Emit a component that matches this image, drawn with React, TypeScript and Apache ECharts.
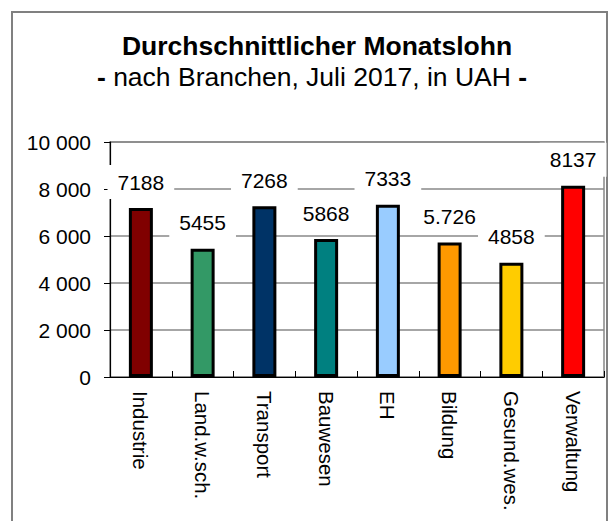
import React, { useEffect, useRef } from "react";
import * as echarts from "echarts";

const categories = ["Industrie", "Land.w.sch.", "Transport", "Bauwesen", "EH", "Bildung", "Gesund.wes.", "Verwaltung"];
const values = [7188, 5455, 7268, 5868, 7333, 5726, 4858, 8137];
const valueLabels = ["7188", "5455", "7268", "5868", "7333", "5.726", "4858", "8137"];
const yTicks = [0, 2000, 4000, 6000, 8000, 10000];
const barColors = ["#800000", "#339966", "#003366", "#008080", "#99CCFF", "#FF9900", "#FFCC00", "#FF0000"];

const FONT = "'Liberation Sans', Arial, Helvetica, sans-serif";

export default function App() {
  const ref = useRef<HTMLDivElement>(null);
  useEffect(() => {
    if (!ref.current) return;
    const chart = echarts.init(ref.current, null, { renderer: "svg" });
    const fmt = (v: number) => {
      const s = String(Math.round(v));
      return s.replace(/\B(?=(\d{3})+(?!\d))/g, " ");
    };
    chart.setOption({
      animation: false,
      backgroundColor: "#ffffff",
      textStyle: { fontFamily: FONT },
      title: [
        {
          text: "Durchschnittlicher Monatslohn",
          left: 317,
          top: 32,
          textAlign: "center",
          padding: 0,
          textStyle: { fontFamily: FONT, fontSize: 26.5, fontWeight: "bold", color: "#000" },
        },
        {
          text: "{b|-} nach Branchen, Juli 2017, in UAH {b|-}",
          left: 312,
          top: 63,
          textAlign: "center",
          padding: 0,
          textStyle: {
            fontFamily: FONT,
            fontSize: 26.5,
            fontWeight: "normal",
            color: "#000",
            rich: {
              b: { fontFamily: FONT, fontSize: 26.5, fontWeight: "bold", color: "#000" },
            },
          },
        },
      ],
      graphic: [
        {
          type: "rect",
          shape: { x: 12, y: 12, width: 595, height: 530 },
          style: { fill: "none", stroke: "#808080", lineWidth: 2 },
          silent: true,
          z: -1,
        },
      ],
      grid: {
        left: 110,
        right: 10,
        top: 142,
        bottom: 144,
        show: true,
        borderColor: "#888888",
        borderWidth: 1.5,
        backgroundColor: "transparent",
      },
      xAxis: {
        type: "category",
        data: categories,
        axisLine: { show: true, lineStyle: { color: "#000", width: 1.2 } },
        axisTick: { show: true, inside: true, length: 6, alignWithLabel: false, lineStyle: { color: "#000" } },
        axisLabel: {
          rotate: -90,
          fontSize: 20.5,
          fontFamily: FONT,
          color: "#000",
          margin: 14,
          interval: 0,
        },
        splitLine: { show: false },
      },
      yAxis: {
        type: "value",
        min: 0,
        max: 10000,
        interval: 2000,
        axisLine: { show: true, lineStyle: { color: "#000", width: 1.2 } },
        axisTick: { show: true, inside: false, length: 6, lineStyle: { color: "#000" } },
        axisLabel: {
          fontSize: 21,
          fontFamily: FONT,
          color: "#000",
          margin: 19,
          formatter: (v: number) => (yTicks.includes(v) ? fmt(v) : ""),
        },
        splitLine: { show: true, lineStyle: { color: "#888888", width: 1.5 } },
      },
      series: [
        {
          type: "bar",
          barWidth: 24,
          data: values.map((v, i) => ({
            value: v,
            itemStyle: { color: barColors[i], borderColor: "#000", borderWidth: 3 },
          })),
          label: {
            show: true,
            position: "top",
            distance: 9,
            formatter: (p: any) => valueLabels[p.dataIndex],
            fontSize: 21,
            fontFamily: FONT,
            color: "#000",
            lineHeight: 20,
            backgroundColor: "#ffffff",
            padding: [7, 10],
          },
        },
      ],
    });
    return () => chart.dispose();
  }, []);
  return (
    <div
      ref={ref}
      style={{ position: "fixed", left: 0, top: 0, width: 614, height: 521, background: "#fff" }}
    />
  );
}
